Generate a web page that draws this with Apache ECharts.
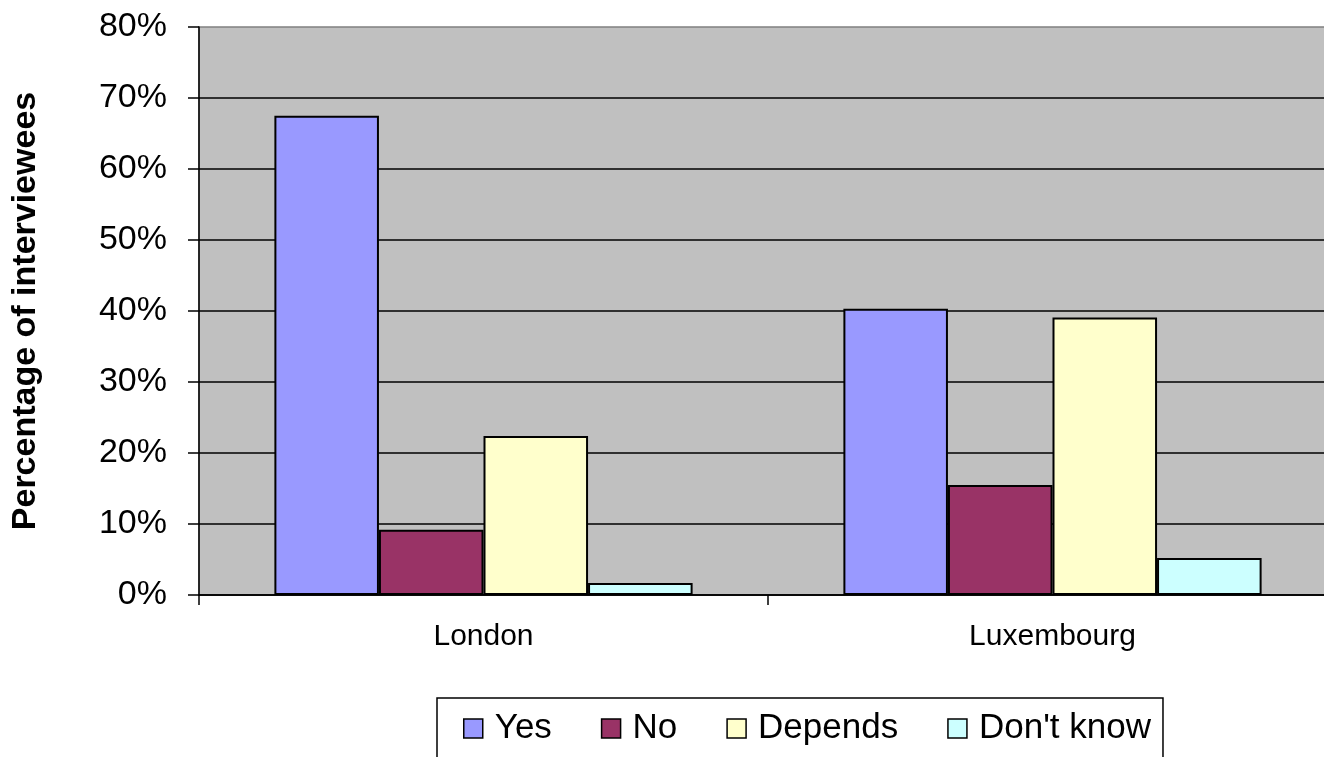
<!DOCTYPE html>
<html>
<head>
<meta charset="utf-8">
<script src="https://cdn.jsdelivr.net/npm/echarts@6/dist/echarts.min.js"></script>
<style>
html,body{margin:0;padding:0;background:#fff;overflow:hidden;}
#chart{width:1344px;height:757px;}
</style>
</head>
<body>
<div id="chart"></div>
<script>
var categories = ['London', 'Luxembourg'];
var seriesNames = ['Yes', 'No', 'Depends', "Don't know"];
var yesValues = [67.5, 40.3];
var noValues = [9.2, 15.5];
var dependsValues = [22.4, 39.1];
var dontKnowValues = [1.7, 5.2];
var yTickMax = 80;
var yTickStep = 10;

var colors = ['#9999FF', '#993366', '#FFFFCC', '#CCFFFF'];
var dataList = [yesValues, noValues, dependsValues, dontKnowValues];
var font = 'Liberation Sans, Arial, sans-serif';

var chart = echarts.init(document.getElementById('chart'), null, {renderer: 'canvas'});
var series = seriesNames.map(function (name, i) {
  return {
    name: name,
    type: 'bar',
    data: dataList[i],
    barGap: '0%',
    barCategoryGap: '26.5%',
    itemStyle: {color: colors[i], borderColor: '#000', borderWidth: 2},
    emphasis: {disabled: true}
  };
});

chart.setOption({
  animation: false,
  backgroundColor: '#ffffff',
  grid: {
    left: 199, top: 27, width: 1138, bottom: 162,
    containLabel: false,
    show: true, backgroundColor: '#C0C0C0', borderColor: '#808080', borderWidth: 1.5
  },
  legend: {
    data: seriesNames,
    left: 437, top: 698,
    orient: 'horizontal',
    borderColor: '#000', borderWidth: 1.5,
    padding: [13, 12, 14, 26],
    itemWidth: 19, itemHeight: 19,
    itemGap: 49,
    icon: 'rect',
    itemStyle: {borderColor: '#000', borderWidth: 1.5},
    textStyle: {fontFamily: font, fontSize: 35, color: '#000', padding: [0, 0, 0, 7]}
  },
  xAxis: {
    type: 'category',
    data: categories,
    axisLine: {show: true, lineStyle: {color: '#000', width: 1.5}},
    axisTick: {show: true, length: 10, lineStyle: {color: '#000', width: 1.5}},
    axisLabel: {fontFamily: font, fontSize: 30, color: '#000', margin: 27},
    splitLine: {show: false}
  },
  yAxis: {
    type: 'value',
    min: 0, max: yTickMax, interval: yTickStep,
    name: 'Percentage of interviewees',
    nameLocation: 'middle',
    nameGap: 156,
    nameTextStyle: {fontFamily: font, fontSize: 34, fontWeight: 'bold', color: '#000'},
    axisLine: {show: true, lineStyle: {color: '#000', width: 1.5}},
    axisTick: {show: true, length: 11, lineStyle: {color: '#000', width: 1.5}},
    axisLabel: {fontFamily: font, fontSize: 34, color: '#000', margin: 32, formatter: '{value}%'},
    splitLine: {show: true, showMaxLine: false, lineStyle: {color: '#000', width: 1.6}}
  },
  series: series
});
</script>
</body>
</html>
